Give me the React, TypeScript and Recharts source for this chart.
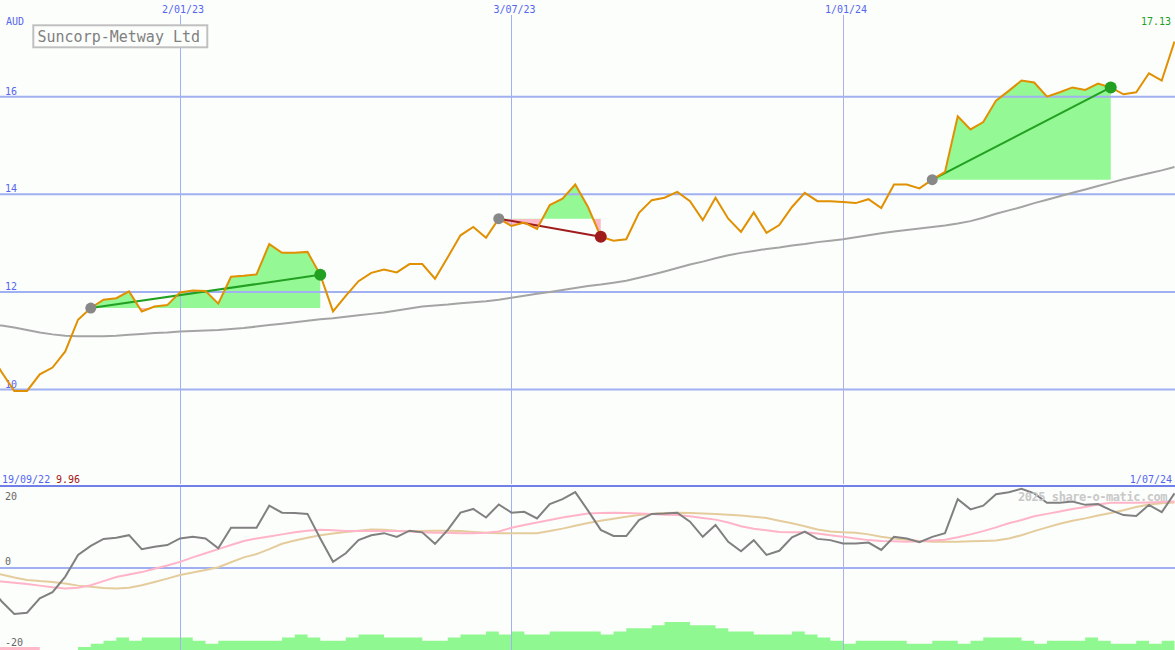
import { ComposedChart, Line, Area, XAxis, YAxis, ReferenceLine } from 'recharts'

// weekly closes, first point is the week of 19/09/22
const firstWeek = -15 // weeks counted from 2/01/23
const priceAUD = [
  10.8, 10.36, 9.97, 9.97, 10.31, 10.45, 10.78, 11.43, 11.67, 11.84, 11.87, 12.01, 11.6, 11.7, 11.73,
  11.99, 12.03, 12.02, 11.76, 12.31, 12.33, 12.36, 12.98, 12.8, 12.8, 12.82, 12.35, 11.6, 11.92, 12.22,
  12.39, 12.46, 12.4, 12.57, 12.57, 12.27, 12.71, 13.16, 13.33, 13.11, 13.5, 13.35, 13.42, 13.29, 13.78,
  13.91, 14.2, 13.74, 13.13, 13.05, 13.08, 13.62, 13.88, 13.93, 14.05, 13.86, 13.47, 13.93, 13.5, 13.23,
  13.63, 13.21, 13.37, 13.74, 14.03, 13.86, 13.86, 13.84, 13.82, 13.9, 13.72, 14.2, 14.2, 14.12, 14.3,
  14.46, 15.6, 15.33, 15.48, 15.92, 16.12, 16.33, 16.29, 16.0, 16.09, 16.19, 16.14, 16.27, 16.19, 16.05,
  16.09, 16.48, 16.33, 17.13,
]
const ma40 = [
  11.33, 11.31, 11.27, 11.22, 11.17, 11.13, 11.1, 11.09, 11.09, 11.09, 11.1, 11.12, 11.14, 11.16, 11.17,
  11.19, 11.2, 11.21, 11.22, 11.24, 11.26, 11.29, 11.32, 11.35, 11.38, 11.41, 11.44, 11.46, 11.49, 11.52,
  11.55, 11.58, 11.62, 11.66, 11.7, 11.72, 11.74, 11.77, 11.79, 11.81, 11.84, 11.88, 11.92, 11.96, 12.0,
  12.04, 12.08, 12.12, 12.15, 12.19, 12.23, 12.29, 12.35, 12.42, 12.49, 12.56, 12.62, 12.69, 12.75, 12.8,
  12.84, 12.88, 12.91, 12.95, 12.98, 13.02, 13.05, 13.08, 13.12, 13.16, 13.2, 13.24, 13.27, 13.3, 13.33,
  13.36, 13.4, 13.45, 13.52, 13.6, 13.67, 13.74, 13.82, 13.89, 13.96, 14.03, 14.1, 14.17, 14.24, 14.31,
  14.37, 14.43, 14.49, 14.56,
]
const oscMain = [
  -4.4, -8.1, -11.2, -10.9, -7.4, -5.9, -2.1, 3.2, 5.4, 7.1, 7.4, 8.0, 4.6, 5.2, 5.6,
  7.2, 7.6, 7.2, 4.8, 9.8, 9.8, 9.8, 15.2, 13.5, 13.4, 13.2, 7.2, 1.5, 3.6, 6.8,
  8.0, 8.5, 7.6, 9.1, 8.7, 5.9, 9.3, 13.5, 14.4, 12.3, 15.5, 13.5, 13.7, 12.1, 15.6,
  16.8, 18.5, 14.0, 9.3, 7.8, 7.8, 11.7, 13.2, 13.3, 13.5, 11.3, 7.6, 10.5, 6.4, 4.1,
  6.8, 3.2, 4.2, 7.5, 8.9, 7.1, 6.8, 6.0, 6.0, 6.2, 4.4, 7.6, 7.2, 6.3, 7.6,
  8.5, 16.8, 14.3, 15.2, 18.0, 18.5, 19.3, 18.2, 15.9, 15.9, 16.2, 15.4, 15.6, 14.1, 12.9,
  12.7, 15.4, 13.6, 18.2,
]
const oscFast = [
  -3.0, -3.3, -3.6, -3.9, -4.3, -4.7, -5.0, -4.8, -4.2, -3.2, -2.2, -1.6, -1.0, -0.2, 0.6,
  1.5, 2.6, 3.6, 4.6, 5.6, 6.6, 7.2, 7.7, 8.2, 8.7, 9.1, 9.3, 9.2, 9.0, 9.0,
  9.0, 9.0, 9.0, 8.9, 8.7, 8.6, 8.6, 8.5, 8.5, 8.6, 8.9, 9.8, 10.5, 11.1, 11.7,
  12.3, 12.8, 13.3, 13.4, 13.5, 13.4, 13.3, 13.2, 13.0, 12.9, 12.6, 12.2, 11.8, 11.1, 10.2,
  9.6, 9.2, 8.8, 8.7, 8.7, 8.4, 8.0, 7.6, 7.2, 6.8, 6.6, 6.5, 6.4, 6.5, 6.7,
  6.9, 7.5, 8.2, 9.0, 9.9, 10.9, 11.7, 12.6, 13.2, 13.8, 14.4, 14.9, 15.5, 15.9, 15.9,
  15.9, 16.0, 16.1, 16.2,
]
const oscSlow = [
  -0.8, -1.6, -2.3, -2.9, -3.2, -3.4, -3.8, -4.3, -4.6, -4.9, -5.0, -4.8, -4.2, -3.4, -2.6,
  -1.7, -1.1, -0.5, 0.2, 1.4, 2.6, 3.4, 4.6, 5.9, 6.7, 7.4, 8.0, 8.4, 8.8, 9.1,
  9.4, 9.3, 9.1, 9.0, 9.0, 9.1, 9.1, 9.0, 8.8, 8.6, 8.5, 8.5, 8.5, 8.5, 9.0,
  9.6, 10.3, 11.0, 11.5, 12.0, 12.5, 12.9, 13.2, 13.4, 13.5, 13.4, 13.3, 13.2, 13.0, 12.8,
  12.5, 12.2, 11.5, 10.9, 10.2, 9.4, 8.9, 8.7, 8.6, 8.2, 7.6, 7.2, 6.9, 6.6, 6.4,
  6.4, 6.4, 6.5, 6.6, 6.7, 7.2, 8.0, 9.0, 9.9, 10.8, 11.5, 12.1, 12.8, 13.4, 14.1,
  14.9, 15.5, 15.8, 16.0,
]
const barGreen = [
  0, 0, 0, 0, 0, 0, 0, 1, 2, 3, 4, 3, 4, 4, 4,
  4, 3, 2, 3, 3, 3, 3, 3, 4, 5, 4, 3, 3, 4, 5,
  5, 4, 4, 4, 3, 3, 4, 5, 5, 6, 5, 6, 5, 5, 6,
  6, 6, 6, 5, 6, 7, 7, 8, 9, 9, 8, 8, 7, 6, 6,
  5, 5, 5, 6, 5, 4, 3, 2, 3, 3, 3, 3, 2, 2, 3,
  3, 2, 3, 4, 4, 4, 3, 2, 3, 3, 3, 4, 3, 2, 2,
  3, 2, 3, 3,
]
const barPink = [1, 1, 1, 1]

const trades = [
  { buy: -7, sell: 11 },
  { buy: 25, sell: 33 },
  { buy: 59, sell: 73 },
]

const gridDates = [
  { w: 0, label: '2/01/23', color: '#a0b0f0' },
  { w: 26, label: '3/07/23', color: '#a0b0f0' },
  { w: 52, label: '1/01/24', color: '#aab2e0' },
]
const priceTicks = [16, 14, 12, 10]

const W = 1175
const X_DOMAIN: [number, number] = [-14.12, 78.04]
const BLUE = '#5566ee'
const GRID = '#a0b0f0'
const FONT = '"DejaVu Sans Mono", monospace'

const rows = priceAUD.map((p, i) => {
  const w = firstWeek + i
  const r: Record<string, number | null> = {
    w,
    price: p,
    ma: ma40[i],
    osc: oscMain[i],
    fast: oscFast[i],
    slow: oscSlow[i],
    hg: barGreen[i],
    hp: barPink[i] ?? 0,
  }
  trades.forEach((t, k) => {
    r['t' + k] = w >= t.buy && w <= t.sell ? p : null
  })
  return r
})

const tradeInfo = trades.map((t) => {
  const b = priceAUD[t.buy - firstWeek]
  const s = priceAUD[t.sell - firstWeek]
  const seg = priceAUD.slice(t.buy - firstWeek, t.sell - firstWeek + 1)
  const hi = Math.max(...seg)
  const lo = Math.min(...seg, b)
  const off = hi === lo ? 1 : (hi - b) / (hi - lo)
  return { ...t, b, s, off, win: s >= b }
})

const leftTick = (text: string, dy: number, color: string) => (props: any) => (
  <text x={props.viewBox.x + 5} y={props.viewBox.y + dy} fill={color} fontSize={10} fontFamily={FONT}>
    {text}
  </text>
)

const topDate = (text: string) => (props: any) => (
  <text x={props.viewBox.x + 3} y={props.viewBox.y - 2} fill={BLUE} fontSize={10} fontFamily={FONT} textAnchor="middle">
    {text}
  </text>
)

function PricePanel() {
  return (
    <ComposedChart width={W} height={484} data={rows} margin={{ top: 15, right: 0, bottom: 0, left: 0 }}>
      <defs>
        {tradeInfo.map((t, k) => (
          <linearGradient key={k} id={'tg' + k} x1="0" y1="0" x2="0" y2="1">
            <stop offset={0} stopColor="#94f894" />
            <stop offset={t.off} stopColor="#94f894" />
            <stop offset={t.off} stopColor="#ffb8c8" />
            <stop offset={1} stopColor="#ffb8c8" />
          </linearGradient>
        ))}
      </defs>
      <XAxis type="number" dataKey="w" domain={X_DOMAIN} allowDataOverflow hide />
      <YAxis type="number" domain={[8.064, 17.674]} allowDataOverflow hide />
      {priceTicks.map((v) => (
        <ReferenceLine key={v} y={v} stroke={GRID} strokeWidth={2} label={leftTick(String(v), -2, BLUE)} />
      ))}
      {gridDates.map((d) => (
        <ReferenceLine
          key={d.w}
          x={d.w}
          stroke={d.color}
          strokeWidth={1}
          shapeRendering="crispEdges"
          label={topDate(d.label)}
        />
      ))}
      {tradeInfo.map((t, k) => (
        <Area
          key={'a' + k}
          dataKey={'t' + k}
          baseValue={t.b}
          fill={`url(#tg${k})`}
          fillOpacity={1}
          stroke="none"
          isAnimationActive={false}
          activeDot={false}
        />
      ))}
      <Line dataKey="ma" stroke="#a4a4a4" strokeWidth={2} dot={false} activeDot={false} isAnimationActive={false} />
      {tradeInfo.map((t, k) => (
        <Line
          key={'l' + k}
          data={[{ w: t.buy, v: t.b }, { w: t.sell, v: t.s }]}
          dataKey="v"
          stroke={t.win ? '#22a022' : '#a01c1c'}
          strokeWidth={2}
          isAnimationActive={false}
          activeDot={false}
          dot={(p: any) => (
            <circle
              key={'d' + k + p.index}
              cx={p.cx}
              cy={p.cy}
              r={p.index === 0 ? 5.5 : 6}
              fill={p.index === 0 ? '#888888' : t.win ? '#22a022' : '#a01c1c'}
            />
          )}
        />
      ))}
      <Line dataKey="price" stroke="#e09000" strokeWidth={2} dot={false} activeDot={false} isAnimationActive={false} />
    </ComposedChart>
  )
}

function OscPanel() {
  return (
    <ComposedChart width={W} height={166} data={rows} margin={{ top: 2, right: 0, bottom: 0, left: 0 }}>
      <XAxis type="number" dataKey="w" domain={X_DOMAIN} allowDataOverflow hide />
      <YAxis type="number" domain={[-20, 20]} allowDataOverflow hide />
      <YAxis yAxisId="h" type="number" domain={[0, 52.9]} allowDataOverflow hide />
      {gridDates.map((d) => (
        <ReferenceLine key={d.w} x={d.w} stroke={d.color} strokeWidth={1} shapeRendering="crispEdges" />
      ))}
      <ReferenceLine y={0} stroke={GRID} strokeWidth={2} label={leftTick('0', -3, '#666666')} />
      <ReferenceLine y={-20} stroke="none" label={leftTick('-20', -4, '#666666')} />
      <ReferenceLine y={20} stroke="#7080e8" strokeWidth={2} label={leftTick('20', 14, '#666666')} />
      <Area yAxisId="h" type="stepAfter" dataKey="hg" baseValue={0} fill="#90f890" fillOpacity={1} stroke="none" isAnimationActive={false} activeDot={false} />
      <Area yAxisId="h" type="stepAfter" dataKey="hp" baseValue={0} fill="#ffb8c8" fillOpacity={1} stroke="none" isAnimationActive={false} activeDot={false} />
      <Line dataKey="slow" stroke="#e4cc9c" strokeWidth={2} dot={false} activeDot={false} isAnimationActive={false} />
      <Line dataKey="fast" stroke="#ffb4c8" strokeWidth={2} dot={false} activeDot={false} isAnimationActive={false} />
      <Line dataKey="osc" stroke="#808080" strokeWidth={2} dot={false} activeDot={false} isAnimationActive={false} />
    </ComposedChart>
  )
}

export default function App() {
  return (
    <div style={{ position: 'absolute', left: 0, top: 0, width: W, height: 650, background: '#fcfefc', overflow: 'hidden' }}>
      <PricePanel />
      <OscPanel />
      <svg width={W} height={650} style={{ position: 'absolute', left: 0, top: 0, pointerEvents: 'none' }}>
        <text x={6} y={24.5} fill={BLUE} fontSize={10} fontFamily={FONT}>AUD</text>
        <rect x={33.3} y={25.3} width={174} height={22} fill="#fcfefc" stroke="#c0c0c0" strokeWidth={2} />
        <text x={37.5} y={41.5} fill="#808080" fontSize={15} fontFamily={FONT}>Suncorp-Metway Ltd</text>
        <text x={1171} y={25} fill="#22a022" fontSize={10} fontFamily={FONT} textAnchor="end">17.13</text>
        <text x={2} y={483} fill={BLUE} fontSize={10} fontFamily={FONT}>19/09/22</text>
        <text x={56} y={483} fill="#a01414" fontSize={10} fontFamily={FONT}>9.96</text>
        <text x={1172} y={483} fill={BLUE} fontSize={10} fontFamily={FONT} textAnchor="end">1/07/24</text>
        <text x={1018} y={501} fill="#c8c8c8" fontSize={12} fontWeight="bold" letterSpacing={-0.45} fontFamily={FONT}>
          2025 share-o-matic.com
        </text>
      </svg>
    </div>
  )
}
